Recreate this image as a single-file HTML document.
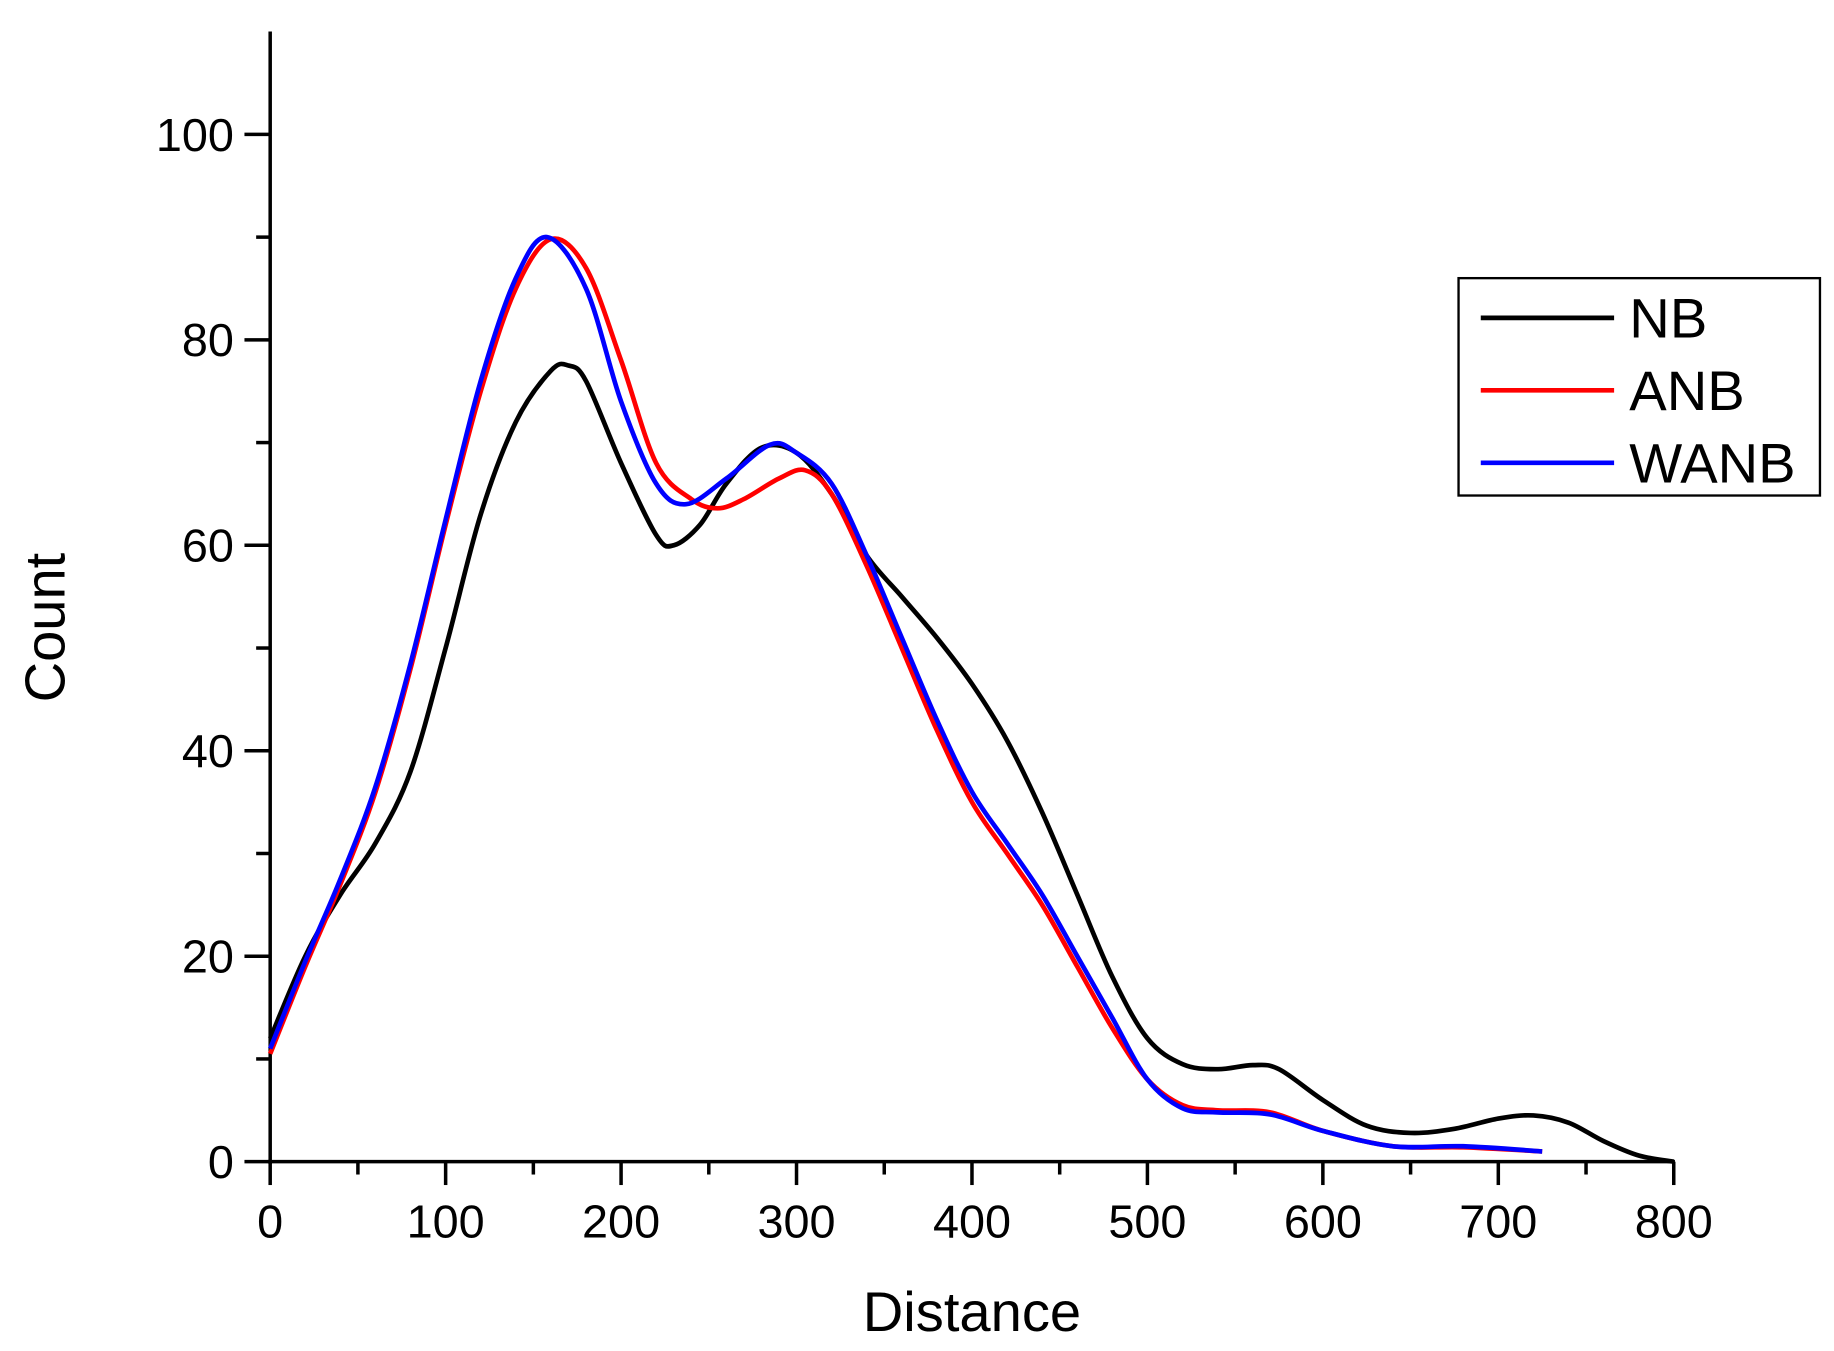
<!DOCTYPE html>
<html><head><style>html,body{margin:0;padding:0;background:#fff}svg{display:block}</style></head>
<body>
<svg id="s" width="1834" height="1351" viewBox="0 0 1568 1156" preserveAspectRatio="none" xmlns="http://www.w3.org/2000/svg" font-family="Liberation Sans, Arial, sans-serif">
<g stroke="#000" stroke-width="3" fill="none">
<line x1="231" y1="27" x2="231" y2="996"/>
<line x1="229" y1="994" x2="1432" y2="994"/>
</g>
<g id="ticks" stroke="#000" stroke-width="3"></g>
<g font-size="40" fill="#000" text-anchor="end" id="ylab"></g>
<g font-size="40" fill="#000" text-anchor="middle" id="xlab"></g>
<text x="831" y="1139" font-size="48" text-anchor="middle">Distance</text>
<text transform="translate(55,537) rotate(-90)" font-size="48" text-anchor="middle">Count</text>
<g id="curves" fill="none" stroke-width="4"></g>
<rect x="1247" y="238" width="309" height="186" fill="#fff" stroke="#000" stroke-width="2"/>
<line x1="1266" y1="272" x2="1380" y2="272" stroke="#000" stroke-width="4"/>
<line x1="1266" y1="334" x2="1380" y2="334" stroke="#f00" stroke-width="4"/>
<line x1="1266" y1="396" x2="1380" y2="396" stroke="#00f" stroke-width="4"/>
<text x="1393" y="289" font-size="48">NB</text>
<text x="1393" y="351" font-size="48">ANB</text>
<text x="1393" y="413" font-size="48">WANB</text>
</svg>
<script>
const NS="http://www.w3.org/2000/svg";
const X=v=>231+v*1.5, Y=v=>994-v*8.79;
function el(p,t,a,txt){const e=document.createElementNS(NS,t);for(const k in a)e.setAttribute(k,a[k]);if(txt!==undefined)e.textContent=txt;document.getElementById(p).appendChild(e);}
for(let v=0;v<=105;v+=10){const maj=v%20==0;el("ticks","line",{x1:231,x2:maj?209:219,y1:Y(v),y2:Y(v)});if(maj)el("ylab","text",{x:200,y:Y(v)+14},v);}
for(let v=0;v<=800;v+=50){const maj=v%100==0;el("ticks","line",{x1:X(v),x2:X(v),y1:994,y2:maj?1014:1005});if(maj)el("xlab","text",{x:X(v),y:1059},v);}
const D={
"#000":[[0,12],[20,20],[40,26],[60,31],[80,38],[100,50],[120,63],[140,72],[160,77],[170,77.5],[180,76],[200,68],[220,61],[230,60],[245,62],[260,66],[280,69.5],[300,69],[320,65],[340,59],[360,55],[380,51],[400,46.5],[420,41],[440,34],[460,26],[480,18],[500,12],[520,9.5],[540,9],[560,9.4],[575,9],[600,6],[625,3.5],[650,2.8],[675,3.2],[700,4.2],[720,4.5],[740,3.8],[760,2],[780,0.6],[800,0]],
"#f00":[[0,10.5],[20,19],[40,27],[60,36],[80,48],[100,62],[120,75],[140,85],[160,89.8],[180,87],[200,78],[220,68],[240,64.5],[255,63.6],[270,64.5],[290,66.5],[305,67.3],[320,65],[340,58],[360,50],[380,42],[400,35],[420,30],[440,25],[460,19],[480,13],[500,8],[520,5.5],[540,5],[570,4.8],[600,3],[640,1.5],[680,1.4],[725,1]],
"#00f":[[0,11],[20,19.5],[40,27.5],[60,36.5],[80,48.5],[100,62.5],[120,76],[140,86],[158,90],[180,85],[200,74],[220,66],[237,64],[260,66.5],[285,69.8],[300,69],[320,66],[340,59],[360,51],[380,43],[400,36],[420,31],[440,26],[460,20],[480,14],[500,8],[520,5.2],[540,4.8],[570,4.6],[600,3],[640,1.5],[680,1.5],[725,1]]};
for(const c in D){const p=D[c].map(([a,b])=>[X(a),Y(b)]);let d="M"+p[0][0]+","+p[0][1];
for(let i=0;i<p.length-1;i++){const p0=p[Math.max(i-1,0)],p1=p[i],p2=p[i+1],p3=p[Math.min(i+2,p.length-1)];
d+=` C${p1[0]+(p2[0]-p0[0])/6},${p1[1]+(p2[1]-p0[1])/6} ${p2[0]-(p3[0]-p1[0])/6},${p2[1]-(p3[1]-p1[1])/6} ${p2[0]},${p2[1]}`;}
el("curves","path",{d:d,stroke:c,"stroke-linejoin":"round"});}
</script>
</body></html>
